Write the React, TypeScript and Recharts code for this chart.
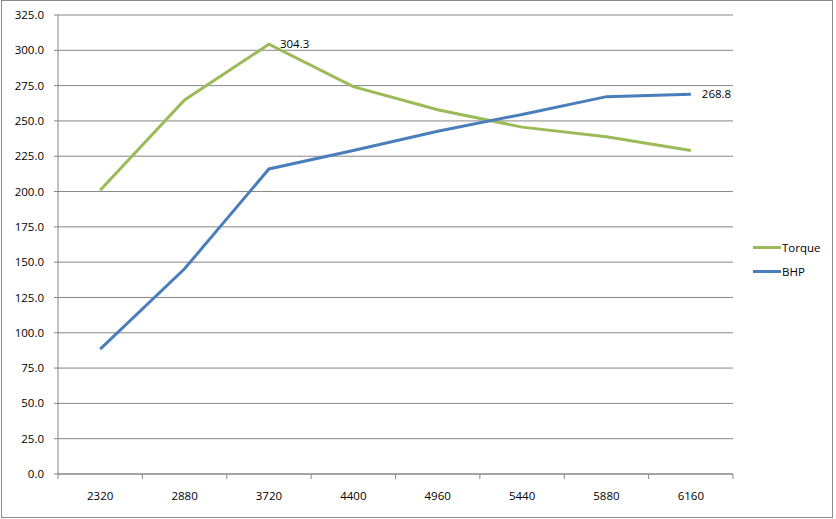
import { LineChart, Line, XAxis, YAxis, CartesianGrid } from "recharts";

const rpm = ["2320", "2880", "3720", "4400", "4960", "5440", "5880", "6160"];
const torque = [200.9, 264.9, 304.3, 274.3, 257.9, 245.6, 238.8, 229.0];
const bhp = [88.4, 145.3, 216.0, 229.1, 242.7, 254.6, 267.2, 268.8];
const yTicks = [0, 25, 50, 75, 100, 125, 150, 175, 200, 225, 250, 275, 300, 325];
// which point of each series carries a value label
const torqueLabelAt = 2;
const bhpLabelAt = 7;

const data = rpm.map((r, i) => ({ rpm: r, Torque: torque[i], BHP: bhp[i] }));

const W = 836;
const H = 519;
const PLOT_LEFT = 58;
const PLOT_RIGHT = 733;
const BAND = (PLOT_RIGHT - PLOT_LEFT) / rpm.length;

const GREEN = "#9BBB59";
const BLUE = "#4A7EBB";
const GRID = "#868686";
const FONT = "'Open Sans', 'Liberation Sans', sans-serif";
const FS = 11.5;

function XTick(props: any) {
  const { x, y, payload, index } = props;
  const half = BAND / 2;
  return (
    <g>
      <line x1={x - half} y1={y - 8} x2={x - half} y2={y - 3} stroke={GRID} />
      {index === rpm.length - 1 && (
        <line x1={x + half} y1={y - 8} x2={x + half} y2={y - 3} stroke={GRID} />
      )}
      <text x={x} y={y + 18} textAnchor="middle" fontSize={FS} fill="#000" fontFamily={FONT}>
        {payload.value}
      </text>
    </g>
  );
}

function pointLabel(at: number) {
  return (props: any) => {
    const { x, y, index, value } = props;
    if (index !== at) return null;
    return (
      <text x={x + 11} y={y + 4} fontSize={FS} fill="#000" fontFamily={FONT}>
        {Number(value).toFixed(1)}
      </text>
    );
  };
}

function LegendBox() {
  const items = [
    { name: "Torque", color: GREEN },
    { name: "BHP", color: BLUE },
  ];
  return (
    <div style={{ position: "absolute", left: 753, top: 235 }}>
      {items.map((it) => (
        <div key={it.name} style={{ display: "flex", alignItems: "center", height: 24 }}>
          <span style={{ display: "inline-block", width: 28, height: 3, background: it.color }} />
          <span style={{ fontSize: FS, fontFamily: FONT, color: "#000", marginLeft: 1 }}>{it.name}</span>
        </div>
      ))}
    </div>
  );
}

export default function App() {
  return (
    <div style={{ position: "relative", width: W, height: H, background: "#fff" }}>
      <style>{"body{margin:0}"}</style>
      <LineChart width={W} height={H} data={data} margin={{ top: 15, right: W - PLOT_RIGHT, bottom: 0, left: 0 }}>
        <CartesianGrid vertical={false} stroke={GRID} strokeWidth={1} />
        <XAxis
          dataKey="rpm"
          padding={{ left: BAND / 2, right: BAND / 2 }}
          height={45}
          stroke={GRID}
          tickLine={false}
          tick={<XTick />}
          interval={0}
        />
        <YAxis
          width={PLOT_LEFT}
          domain={[0, 325]}
          ticks={yTicks}
          interval={0}
          stroke={GRID}
          tickSize={4}
          tickMargin={10}
          tickFormatter={(v: number) => v.toFixed(1)}
          tick={{ fontSize: FS, fill: "#000", fontFamily: FONT }}
        />
        <Line
          dataKey="Torque"
          stroke={GREEN}
          strokeWidth={3}
          dot={false}
          isAnimationActive={false}
          label={pointLabel(torqueLabelAt)}
        />
        <Line
          dataKey="BHP"
          stroke={BLUE}
          strokeWidth={3}
          dot={false}
          isAnimationActive={false}
          label={pointLabel(bhpLabelAt)}
        />
      </LineChart>
      <LegendBox />
      <div
        style={{
          position: "absolute",
          left: 1,
          top: 0,
          width: 832,
          height: 518,
          border: "1px solid #8a8a8a",
          boxSizing: "border-box",
          pointerEvents: "none",
        }}
      />
    </div>
  );
}
